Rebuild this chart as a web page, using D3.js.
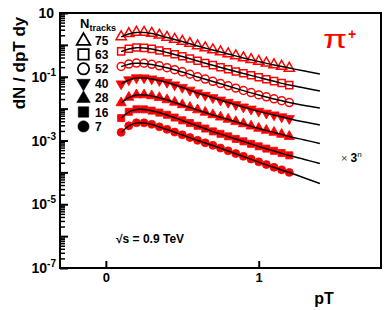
<!DOCTYPE html>
<html><head><meta charset="utf-8">
<script src="https://cdn.jsdelivr.net/npm/d3@7/dist/d3.min.js"></script>
<style>
body{margin:0;background:#fff}
svg{display:block}
text{font-family:"Liberation Sans",Arial,Helvetica,sans-serif}
</style>
</head><body>
<svg id="chart" width="390" height="310"></svg>
<script>
// ---------- data ----------
const pT = [0.10,0.15,0.20,0.25,0.30,0.35,0.40,0.45,0.50,0.55,0.60,0.65,0.70,0.75,0.80,0.85,0.90,0.95,1.00,1.05,1.10,1.15,1.20];
const fitPT = [0.10,0.15,0.20,0.25,0.30,0.40,0.50,0.60,0.70,0.80,0.90,1.00,1.10,1.20,1.30,1.40];
const nTracks = ["75","63","52","40","28","16","7"];

const s75 = [1.80,2.25,2.50,2.48,2.31,2.02,1.72,1.50,1.29,1.11,0.935,0.810,0.700,0.605,0.526,0.455,0.392,0.346,0.305,0.268,0.238,0.214,0.185];
const s63 = [0.625,0.760,0.830,0.805,0.750,0.665,0.585,0.505,0.438,0.372,0.318,0.270,0.232,0.199,0.171,0.147,0.128,0.111,0.0965,0.0840,0.0728,0.0635,0.0545];
const s52 = [0.210,0.250,0.268,0.265,0.245,0.220,0.193,0.167,0.143,0.120,0.0995,0.0845,0.0718,0.0610,0.0520,0.0440,0.0370,0.0318,0.0270,0.0235,0.0203,0.0178,0.0155];
const s40 = [0.0600,0.0805,0.0930,0.0925,0.0860,0.0760,0.0670,0.0558,0.0466,0.0382,0.0313,0.0263,0.0222,0.0186,0.0158,0.0134,0.0113,0.00970,0.00832,0.00725,0.00638,0.00556,0.00488];
const s28 = [0.0152,0.0226,0.0271,0.0270,0.0252,0.0222,0.0189,0.0158,0.0132,0.0109,0.00915,0.00765,0.00640,0.00541,0.00462,0.00390,0.00334,0.00283,0.00241,0.00208,0.00180,0.00156,0.00134];
const s16 = [0.00505,0.00795,0.00955,0.00950,0.00865,0.00750,0.00640,0.00525,0.00430,0.00353,0.00289,0.00237,0.00193,0.00162,0.00135,0.00112,0.000942,0.000785,0.000657,0.000557,0.000474,0.000405,0.000342];
const s7  = [0.00180,0.00290,0.00360,0.00358,0.00322,0.00268,0.00224,0.00184,0.00151,0.00124,0.00101,0.000845,0.000705,0.000580,0.000475,0.000390,0.000319,0.000262,0.000214,0.000176,0.000144,0.000120,0.000100];

const f75 = [1.77,2.19,2.44,2.44,2.27,1.70,1.28,0.922,0.690,0.518,0.388,0.301,0.234,0.188,0.151,0.122];
const f63 = [0.611,0.743,0.815,0.798,0.743,0.577,0.432,0.312,0.229,0.169,0.126,0.0955,0.0720,0.0551,0.0444,0.0357];
const f52 = [0.207,0.246,0.264,0.261,0.242,0.191,0.141,0.0982,0.0710,0.0513,0.0365,0.0267,0.0200,0.0156,0.0125,0.0105];
const f40 = [0.0593,0.0791,0.0914,0.0914,0.0849,0.0661,0.0460,0.0309,0.0219,0.0156,0.0112,0.00824,0.00631,0.00483,0.00380,0.00306];
const f28 = [0.0150,0.0223,0.0267,0.0267,0.0249,0.0187,0.0130,0.00906,0.00631,0.00456,0.00330,0.00238,0.00178,0.00133,0.00104,0.000805];
const f16 = [0.00497,0.00783,0.00940,0.00940,0.00855,0.00631,0.00424,0.00285,0.00191,0.00133,0.000931,0.000649,0.000469,0.000338,0.000254,0.000190];
const f7  = [0.00176,0.00285,0.00354,0.00354,0.00318,0.00221,0.00149,0.00100,0.000697,0.000469,0.000315,0.000211,0.000142,0.0000991,0.0000667,0.0000448];

const yMajorTicks = [1e-7,1e-6,1e-5,1e-4,1e-3,1e-2,1e-1,1,10];
const yLabelValues = [10,1e-1,1e-3,1e-5,1e-7];
const yLabelBase = ["10","10","10","10","10"];
const yLabelExp = ["","-1","-3","-5","-7"];
const xTickValues = [0,1];
const xTickLabels = ["0","1"];

const seriesData = [s75,s63,s52,s40,s28,s16,s7];
const fitData = [f75,f63,f52,f40,f28,f16,f7];
const markerShapes = ["triangle","square","circle","triangleDown","triangle","square","circle"];
const markerFilled = [false,false,false,true,true,true,true];

// ---------- layout ----------
const svg = d3.select("#chart");
const L = 60, R = 381, T = 13, B = 268;
const x = d3.scaleLinear().domain([-0.3, 1.8]).range([L, R]);
const y = d3.scaleLog().domain([1e-7, 10]).range([B, T]);
const RED = "#ff0000";

function symbolPath(shape, size) {
  const t = shape === "square" ? d3.symbolSquare : shape === "circle" ? d3.symbolCircle : d3.symbolTriangle;
  return d3.symbol().type(t).size(size)();
}

// markers
seriesData.forEach((s, i) => {
  const shape = markerShapes[i];
  const filled = markerFilled[i];
  const size = shape === "square" ? 50 : shape === "circle" ? 50 : 45;
  const g = svg.append("g");
  g.selectAll("path").data(s).join("path")
    .attr("d", symbolPath(shape, size))
    .attr("transform", (d, j) => `translate(${x(pT[j])},${y(d)})${shape === "triangleDown" ? " rotate(180)" : ""}`)
    .attr("fill", filled ? RED : "none")
    .attr("stroke", RED)
    .attr("stroke-width", filled ? 0.8 : 1.5);
});

// fit lines
const line = d3.line().x((d, j) => x(fitPT[j])).y(d => y(d)).curve(d3.curveCatmullRom.alpha(0.5));
fitData.forEach(f => {
  svg.append("path").attr("d", line(f)).attr("fill", "none").attr("stroke", "#000").attr("stroke-width", 1.4);
});

// axes ticks
const minorTicks = y.ticks().filter(v => !yMajorTicks.some(m => Math.abs(Math.log10(v) - Math.log10(m)) < 1e-6));
svg.append("g").attr("transform", `translate(${L},0)`)
  .call(d3.axisRight(y).tickValues(yMajorTicks).tickSize(8).tickFormat(""))
  .call(g => g.select(".domain").remove())
  .call(g => g.selectAll("line").attr("stroke-width", 2));
svg.append("g").attr("transform", `translate(${L},0)`)
  .call(d3.axisRight(y).tickValues(minorTicks).tickSize(5).tickFormat(""))
  .call(g => g.select(".domain").remove())
  .call(g => g.selectAll("line").attr("stroke-width", 1.5));
svg.append("g").attr("transform", `translate(0,${B})`)
  .call(d3.axisTop(x).tickValues(xTickValues).tickSize(7).tickFormat(""))
  .call(g => g.select(".domain").remove())
  .call(g => g.selectAll("line").attr("stroke-width", 2));

// x tick labels
svg.append("g").attr("transform", `translate(0,${B})`)
  .call(d3.axisBottom(x).tickValues(xTickValues).tickSize(0).tickPadding(5).tickFormat((d, i) => xTickLabels[i]))
  .call(g => g.select(".domain").remove())
  .call(g => g.selectAll("text").attr("font-size", 13).attr("font-weight", "bold").attr("font-family", '"Liberation Sans",Arial,sans-serif').attr("fill", "#000"));

// y tick labels
yLabelValues.forEach((v, i) => {
  const t = svg.append("text")
    .attr("x", i === 0 ? 54 : 56).attr("y", y(v) + 5)
    .attr("text-anchor", "end").attr("font-size", 14).attr("font-weight", "bold");
  t.append("tspan").text(yLabelBase[i]);
  if (yLabelExp[i]) t.append("tspan").attr("font-size", 10).attr("dy", -6).text(yLabelExp[i]);
});

// frame
svg.append("rect").attr("x", L).attr("y", T).attr("width", R - L).attr("height", B - T)
  .attr("fill", "none").attr("stroke", "#000").attr("stroke-width", 2);

// axis titles
svg.append("text").attr("transform", `translate(25,63) rotate(-90)`)
  .attr("text-anchor", "middle").attr("font-size", 17).attr("font-weight", "bold").text("dN / dpT dy");
svg.append("text").attr("x", 324).attr("y", 304).attr("text-anchor", "middle")
  .attr("font-size", 16).attr("font-weight", "bold").text("pT");

// pi+
const pi = svg.append("g").attr("transform", "translate(323,48)");
pi.append("text").attr("transform", "scale(1.4,1)").attr("font-size", 25).attr("fill", RED).text("π");
pi.append("text").attr("x", 25).attr("y", -9).attr("font-size", 14).attr("font-weight", "bold").attr("fill", RED).text("+");

// x 3^n
const sc = svg.append("text").attr("x", 341).attr("y", 162).attr("font-size", 11);
sc.append("tspan").attr("fill", "#444").text("× ");
sc.append("tspan").attr("font-weight", "bold").attr("font-size", 12).text("3");
sc.append("tspan").attr("font-size", 8).attr("dy", -5).text("n");

// sqrt s
svg.append("text").attr("x", 116).attr("y", 243).attr("font-size", 12).attr("font-weight", "bold").text("√s = 0.9 TeV");

// legend
const lg = svg.append("text").attr("x", 80).attr("y", 28).attr("font-size", 13).attr("font-weight", "bold");
lg.append("tspan").text("N");
lg.append("tspan").attr("font-size", 9).attr("dy", 2.5).text("tracks");
nTracks.forEach((n, i) => {
  const cy = 40 + i * 14.4;
  const shape = markerShapes[i];
  const filled = markerFilled[i];
  const size = shape === "square" ? 110 : shape === "circle" ? 100 : 80;
  svg.append("path").attr("d", symbolPath(shape, size))
    .attr("transform", `translate(83.5,${cy + (shape === "triangle" ? 1 : 0)})${shape === "triangleDown" ? " rotate(180)" : ""}`)
    .attr("fill", filled ? "#000" : "none").attr("stroke", "#000").attr("stroke-width", filled ? 0.5 : 1.8);
  svg.append("text").attr("x", 95).attr("y", cy + 4.5).attr("font-size", 12).attr("font-weight", "bold").text(n);
});
</script>
</body></html>
